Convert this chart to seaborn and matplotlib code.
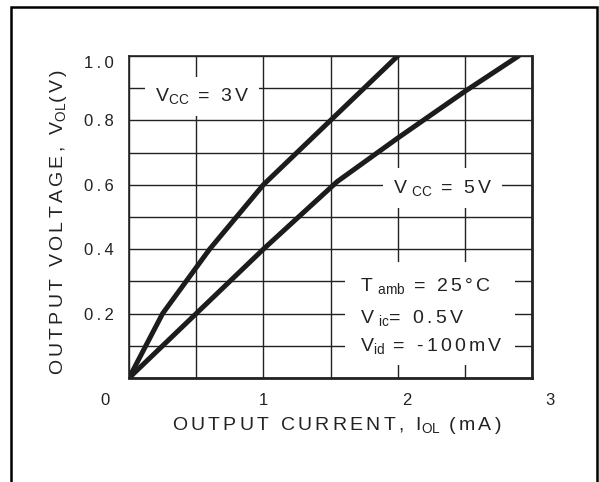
import matplotlib
matplotlib.use('Agg')
import matplotlib.pyplot as plt
import matplotlib.transforms as mtransforms
from matplotlib.patches import Rectangle
import seaborn as sns
import numpy as np

# ---------------- data ----------------
i_ol_3v = [0.0, 0.25, 0.6, 1.0, 1.5, 2.0]
v_ol_3v = [0.0, 0.2, 0.4, 0.6, 0.8, 1.0]

i_ol_5v = [0.0, 0.5, 1.0, 1.55, 2.0, 2.5, 2.9]
v_ol_5v = [0.0, 0.2, 0.4, 0.61, 0.745, 0.89, 1.0]

x_ticks = [0, 0.5, 1, 1.5, 2, 2.5, 3]
x_labels = ['0', '', '1', '', '2', '', '3']
y_ticks = [0, 0.1, 0.2, 0.3, 0.4, 0.5, 0.6, 0.7, 0.8, 0.9, 1.0]
y_labels = ['', '', '0.2', '', '0.4', '', '0.6', '', '0.8', '', '1.0']

sns.set_style('white')
plt.rcParams['font.family'] = ['Liberation Sans', 'DejaVu Sans']
plt.rcParams['mathtext.default'] = 'regular'

SP = '\u2006'   # small gap to mimic the letter spacing of the datasheet


def spaced(s, gap=SP):
    return gap.join(s)


W, H = 599, 482
fig = plt.figure(figsize=(W / 100, H / 100), dpi=100)
ax = fig.add_axes([129 / W, 1 - 378 / H, 403 / W, 322 / H])

# outer frame of the datasheet figure
fig.patches.append(Rectangle((11 / W, -0.05), 586 / W, 1.05 - 7 / H, transform=fig.transFigure,
                             fill=False, lw=1.8, ec='black'))

ink = '#1c1c1c'
sns.lineplot(x=i_ol_3v, y=v_ol_3v, ax=ax, color=ink, lw=3.6, sort=False, estimator=None,
             solid_capstyle='round', zorder=5)
sns.lineplot(x=i_ol_5v, y=v_ol_5v, ax=ax, color=ink, lw=3.6, sort=False, estimator=None,
             solid_capstyle='round', zorder=5)

ax.set_xlim(0, 3)
ax.set_ylim(0, 1.0)
ax.set_xticks(x_ticks)
ax.set_xticklabels([spaced(t, '\u2009') for t in x_labels], fontsize=12, color='#222')
ax.set_yticks(y_ticks)
ax.set_yticklabels([spaced(t, '\u2009') for t in y_labels], fontsize=12, color='#222')
ax.tick_params(length=0, pad=11)
ax.grid(True, color='#222', lw=1.0)
for side in ['left', 'top']:
    ax.spines[side].set_linewidth(1.2)
for side in ['right', 'bottom']:
    ax.spines[side].set_linewidth(2.0)
for s in ax.spines.values():
    s.set_color('#222')
    s.set_zorder(6)

# datasheet tick labels are not centred on the grid lines
shifts = {'0': -24, '2': 9, '3': 18}
for lab in ax.get_xticklabels():
    d = shifts.get(lab.get_text().replace('\u2009', ''), 0)
    lab.set_transform(lab.get_transform() + mtransforms.ScaledTranslation(d / 100, 0, fig.dpi_scale_trans))
for lab in ax.get_yticklabels():
    if lab.get_text().replace('\u2009', '') == '1.0':
        lab.set_transform(lab.get_transform() + mtransforms.ScaledTranslation(0, -6 / 100, fig.dpi_scale_trans))

ax.set_xlabel(spaced('OUTPUT CURRENT, I') + '$_{OL}$' + spaced(' (mA)'), fontsize=14, color='#222')
ax.xaxis.set_label_coords(0.516, -0.115)
ax.set_ylabel(spaced('OUTPUT VOLTAGE, V') + '$_{OL}$' + spaced('(V)'), fontsize=14, color='#222')
ax.yaxis.set_label_coords(-0.15, 0.485)

white = dict(boxstyle='square,pad=0.5', fc='white', ec='none')
ax.text(0.065, 0.875, 'V$_{CC}$' + spaced(' = 3V'), transform=ax.transAxes, fontsize=14,
        color='#222', va='center', ha='left', bbox=white, zorder=4)
ax.text(0.655, 0.59, 'V $_{CC}$' + spaced(' = 5V'), transform=ax.transAxes, fontsize=14,
        color='#222', va='center', ha='left', bbox=white, zorder=4)

ax.add_patch(Rectangle((0.536, 0.04), 0.422, 0.32, transform=ax.transAxes, fc='white',
                       ec='none', zorder=3))
ax.text(0.574, 0.285, 'T $_{amb}$' + spaced(' = 25°C'), transform=ax.transAxes, fontsize=14,
        color='#222', va='center', ha='left', zorder=4)
ax.text(0.574, 0.185, 'V $_{ic}$' + spaced('= 0.5V'), transform=ax.transAxes, fontsize=14,
        color='#222', va='center', ha='left', zorder=4)
ax.text(0.574, 0.10, 'V$_{id}$' + spaced(' = -100mV'), transform=ax.transAxes, fontsize=14,
        color='#222', va='center', ha='left', zorder=4)

fig.savefig('out.png', dpi=100)
